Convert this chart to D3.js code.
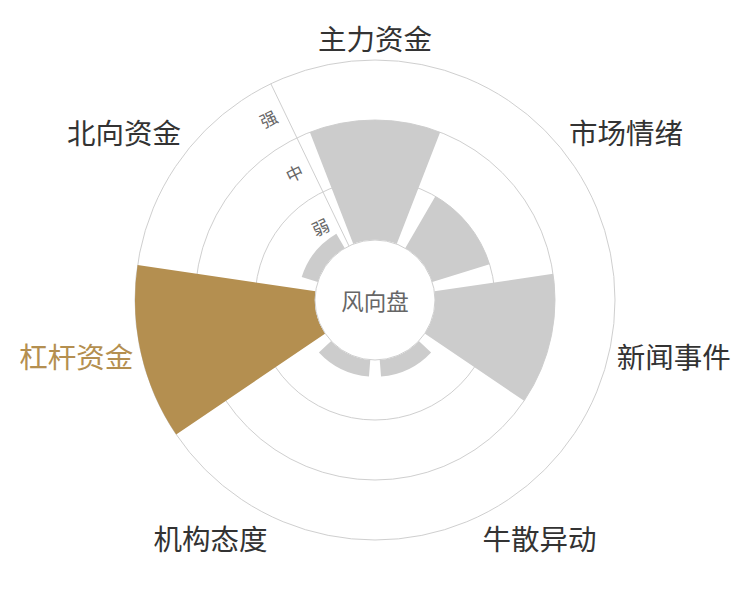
<!DOCTYPE html>
<html>
<head>
<meta charset="utf-8">
<script src="https://cdn.jsdelivr.net/npm/d3@7"></script>
<style>
  body { margin: 0; background: #fff; }
  text { font-family: "Noto Sans CJK SC", "Noto Sans", sans-serif; }
</style>
</head>
<body>
<div id="chart"></div>
<script>
// chart data
const categories = ["主力资金", "市场情绪", "新闻事件", "牛散异动", "机构态度", "杠杆资金", "北向资金"];
const values = [2, 1, 2, 0.28, 0.28, 3, 0.28];
const levels = ["弱", "中", "强"];
const highlighted = "杠杆资金";
const centerTitle = "风向盘";

const WIDTH = 750;
const HEIGHT = 600;
const CENTER = { X: 375, Y: 300 };
const INNER_RADIUS = 60;
const OUTER_RADIUS = 240;
const LABEL_MARGIN = 8;
const LABEL_SIZE = 28.5;
const BAR_COLOR = "#cccccc";
const HIGHLIGHT_COLOR = "#b48f50";
const SPLIT_COLOR = "#cfcfcf";

const svg = d3.select("#chart").append("svg").attr("width", WIDTH).attr("height", HEIGHT);
const g = svg.append("g").attr("transform", `translate(${CENTER.X}, ${CENTER.Y})`);

// angle: 0 at top, clockwise; first category centered at the top
const step = (2 * Math.PI) / categories.length;
const angle = d3
  .scaleBand()
  .domain(categories)
  .range([-step / 2, 2 * Math.PI - step / 2])
  .paddingInner(0.175)
  .paddingOuter(0.0875);

const radius = d3.scaleLinear().domain([0, levels.length]).range([INNER_RADIUS, OUTER_RADIUS]);
const levelBand = d3.scaleBand().domain(levels).range([INNER_RADIUS, OUTER_RADIUS]);

// split circles
g.selectAll("circle.split")
  .data(d3.range(1, levels.length + 1))
  .enter()
  .append("circle")
  .attr("class", "split")
  .attr("r", (d) => radius(d))
  .attr("fill", "none")
  .attr("stroke", SPLIT_COLOR)
  .attr("stroke-width", 1);

// radius axis line sits on the boundary before the first category
const axisAngle = -step / 2;
const axisDeg = (axisAngle * 180) / Math.PI;
g.append("line")
  .attr("x1", INNER_RADIUS * Math.sin(axisAngle))
  .attr("y1", -INNER_RADIUS * Math.cos(axisAngle))
  .attr("x2", OUTER_RADIUS * Math.sin(axisAngle))
  .attr("y2", -OUTER_RADIUS * Math.cos(axisAngle))
  .attr("stroke", SPLIT_COLOR)
  .attr("stroke-width", 1);

// bars
const arc = d3
  .arc()
  .innerRadius(INNER_RADIUS)
  .outerRadius((d) => radius(d.value))
  .startAngle((d) => angle(d.name))
  .endAngle((d) => angle(d.name) + angle.bandwidth());

const barData = categories.map((name, i) => ({ name, value: values[i] }));

g.selectAll("path.bar")
  .data(barData)
  .enter()
  .append("path")
  .attr("class", "bar")
  .attr("d", arc)
  .attr("fill", (d) => (d.name === highlighted ? HIGHLIGHT_COLOR : BAR_COLOR));

// center hole
g.append("circle").attr("r", INNER_RADIUS).attr("fill", "#fff").attr("stroke", SPLIT_COLOR).attr("stroke-width", 1);

g.append("text")
  .attr("text-anchor", "middle")
  .attr("dominant-baseline", "central")
  .attr("font-size", 22.5)
  .attr("fill", "#666")
  .text(centerTitle);

// radius axis labels, tangential, left of the axis line
g.selectAll("text.level")
  .data(levels)
  .enter()
  .append("text")
  .attr("class", "level")
  .attr("transform", function (d) {
    const r = levelBand(d) + levelBand.bandwidth() / 2;
    const x = r * Math.sin(axisAngle);
    const y = -r * Math.cos(axisAngle);
    return `translate(${x}, ${y}) rotate(${axisDeg})`;
  })
  .attr("x", -9)
  .attr("text-anchor", "end")
  .attr("dominant-baseline", "central")
  .attr("font-size", 17)
  .attr("fill", "#666")
  .text((d) => d);

// category labels around the outside
const labelRadius = OUTER_RADIUS + LABEL_MARGIN;
g.selectAll("text.category")
  .data(categories)
  .enter()
  .append("text")
  .attr("class", "category")
  .each(function (d) {
    const a = angle(d) + angle.bandwidth() / 2;
    const dx = Math.sin(a);
    const dy = -Math.cos(a);
    const x = labelRadius * dx;
    let y = labelRadius * dy;
    const anchor = Math.abs(dx) < 0.3 ? "middle" : dx > 0 ? "start" : "end";
    if (Math.abs(dy) >= 0.3) y += dy > 0 ? LABEL_SIZE / 2 : -LABEL_SIZE / 2;
    d3.select(this)
      .attr("x", x)
      .attr("y", y)
      .attr("text-anchor", anchor)
      .attr("dominant-baseline", "central");
  })
  .attr("font-size", LABEL_SIZE)
  .attr("fill", (d) => (d === highlighted ? HIGHLIGHT_COLOR : "#333"))
  .text((d) => d);
</script>
</body>
</html>
